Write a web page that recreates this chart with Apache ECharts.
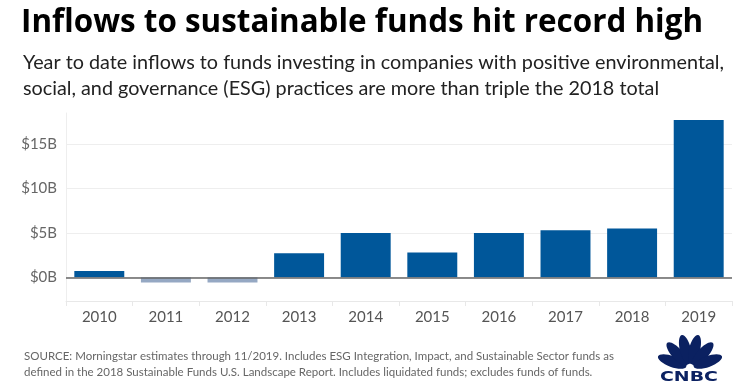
<!DOCTYPE html>
<html>
<head>
<meta charset="utf-8">
<title>Inflows to sustainable funds</title>
<script src="https://cdn.jsdelivr.net/npm/echarts@6/dist/echarts.min.js"></script>
<style>
  html, body { margin: 0; padding: 0; background: #fff; }
  #chart { width: 739px; height: 391px; }
</style>
</head>
<body>
<div id="chart"></div>
<script>
// 数据
const years = ['2010', '2011', '2012', '2013', '2014', '2015', '2016', '2017', '2018', '2019']
const inflows = [0.7, -0.6, -0.6, 2.7, 5.0, 2.8, 5.0, 5.3, 5.5, 17.7] // 十亿美元
const yTicks = [0, 5, 10, 15]

const titleText = 'Inflows to sustainable funds hit record high'
const subText = 'Year to date inflows to funds investing in companies with positive environmental,\nsocial, and governance (ESG) practices are more than triple the 2018 total'
const sourceText = 'SOURCE: Morningstar estimates through 11/2019. Includes ESG Integration, Impact, and Sustainable Sector funds as\ndefined in the 2018 Sustainable Funds U.S. Landscape Report. Includes liquidated funds; excludes funds of funds.'

const font = 'Lato, "Open Sans", sans-serif'
const navy = '#0b2161'

// CNBC 孔雀标志（简化）
const feathers = [-70, -42, -14, 14, 42, 70].map(function (deg) {
  return {
    type: 'ellipse',
    x: 690,
    y: 368,
    rotation: -deg * Math.PI / 180,
    shape: { cx: 0, cy: -19, rx: 5.5, ry: 15 },
    style: { fill: navy },
    silent: true
  }
})

const chart = echarts.init(document.getElementById('chart'))
const option = {
  animation: false,
  title: [
    {
      text: titleText,
      left: 16,
      top: 3,
      textStyle: { fontFamily: '"Open Sans", sans-serif', fontWeight: 'bold', fontSize: 31.4, color: '#000' }
    },
    {
      text: subText,
      left: 18,
      top: 45,
      textStyle: { fontFamily: font, fontWeight: 'normal', fontSize: 19.8, lineHeight: 26, color: '#222' }
    },
    {
      text: sourceText,
      left: 19,
      top: 343,
      textStyle: { fontFamily: font, fontWeight: 'normal', fontSize: 11.5, lineHeight: 16, color: '#666' }
    }
  ],
  grid: { left: 66, right: 7, top: 113, bottom: 90, containLabel: false },
  xAxis: {
    type: 'category',
    data: years,
    axisLine: { onZero: false, lineStyle: { color: '#e8e8e8' } },
    axisTick: { show: true, length: 5, lineStyle: { color: '#e8e8e8' } },
    axisLabel: { color: '#555', fontSize: 15, fontFamily: font, margin: 9 }
  },
  yAxis: {
    type: 'value',
    min: -2.67,
    max: 18.5,
    axisLine: { show: true, lineStyle: { color: '#eeeeee' } },
    axisTick: { show: false, customValues: yTicks },
    axisLabel: {
      customValues: yTicks,
      color: '#666',
      fontSize: 15,
      fontFamily: font,
      margin: 9,
      formatter: function (v) { return '$' + v + 'B' }
    },
    splitLine: { show: true, lineStyle: { color: '#eeeeee' } }
  },
  series: [{
    type: 'bar',
    data: inflows,
    barWidth: '75%',
    itemStyle: {
      color: function (params) {
        return params.value < 0 ? '#95a8c3' : '#00579a'
      }
    },
    markLine: {
      silent: true,
      symbol: 'none',
      label: { show: false },
      lineStyle: { color: '#666', type: 'solid', width: 1.5 },
      data: [{ yAxis: 0 }]
    }
  }],
  graphic: feathers.concat([{
    type: 'text',
    x: 660,
    y: 370,
    scaleX: 1.35,
    style: { text: 'CNBC', fill: navy, font: '900 14px "DejaVu Sans", sans-serif' },
    silent: true
  }])
}
chart.setOption(option)
</script>
</body>
</html>
